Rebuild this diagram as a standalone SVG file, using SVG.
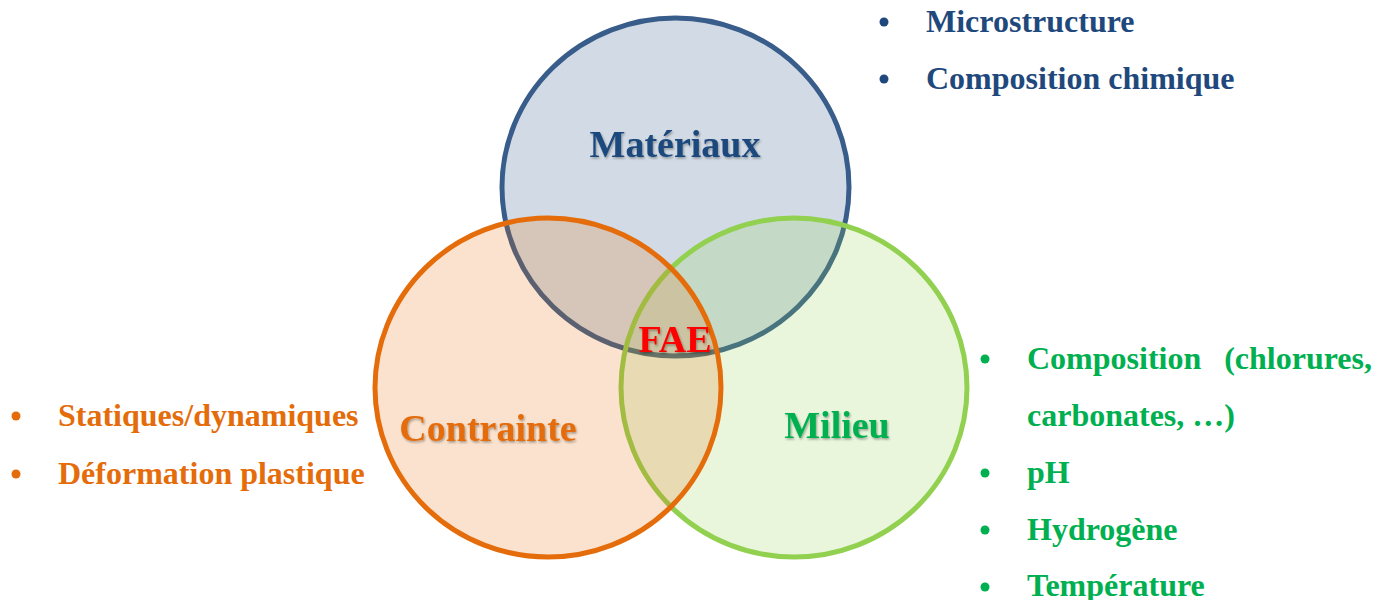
<svg xmlns="http://www.w3.org/2000/svg" width="1389" height="600" viewBox="0 0 1389 600">
<style>
.t{font-family:"Liberation Serif","Times New Roman",serif;font-weight:bold}
.lbl{font-size:38px;text-anchor:middle;filter:url(#sh)}
.li{font-size:32px}
.blue{fill:#1F497D}
.org{fill:#E46C0A}
.grn{fill:#00B050}
</style>
<defs>
<filter id="sh" x="-10%" y="-30%" width="120%" height="160%">
<feDropShadow dx="1" dy="1.5" stdDeviation="1" flood-color="#000" flood-opacity="0.35"/>
</filter>
</defs>
<rect width="1389" height="600" fill="#fff"/>
<g id="materiaux">
<ellipse cx="675.5" cy="187" rx="173.5" ry="169" fill="#1F497D" fill-opacity="0.2" stroke="#385D8A" stroke-width="5"/>
</g>
<g id="milieu">
<ellipse cx="794" cy="387.5" rx="173" ry="169.5" fill="#92D050" fill-opacity="0.2" stroke="#92D050" stroke-width="5"/>
</g>
<g id="contrainte">
<ellipse cx="548" cy="387.5" rx="173" ry="169.5" fill="#E46C0A" fill-opacity="0.2" stroke="#E46C0A" stroke-width="5"/>
</g>
<g id="labels">
<text class="t lbl blue" x="675" y="157">Matériaux</text>
<text class="t lbl org" x="488" y="441">Contrainte</text>
<text class="t lbl grn" x="837" y="438">Milieu</text>
<text class="t lbl" x="675" y="352" fill="#FF0000">FAE</text>
</g>
<g id="list-materiaux">
<circle class="blue" cx="884" cy="22" r="4.5"/>
<circle class="blue" cx="884" cy="79" r="4.5"/>
<text class="t li blue" x="926" y="32">Microstructure</text>
<text class="t li blue" x="926" y="89">Composition chimique</text>
</g>
<g id="list-contrainte">
<circle class="org" cx="16" cy="416" r="4.5"/>
<circle class="org" cx="16" cy="474" r="4.5"/>
<text class="t li org" x="58" y="426">Statiques/dynamiques</text>
<text class="t li org" x="58" y="484">Déformation plastique</text>
</g>
<g id="list-milieu">
<circle class="grn" cx="985" cy="359" r="4.5"/>
<circle class="grn" cx="985" cy="473" r="4.5"/>
<circle class="grn" cx="985" cy="530" r="4.5"/>
<circle class="grn" cx="985" cy="587" r="4.5"/>
<text class="t li grn" x="1027" y="369">Composition</text>
<text class="t li grn" x="1372" y="369" text-anchor="end">(chlorures,</text>
<text class="t li grn" x="1027" y="426">carbonates, …)</text>
<text class="t li grn" x="1027" y="483">pH</text>
<text class="t li grn" x="1027" y="540">Hydrogène</text>
<text class="t li grn" x="1027" y="596">Température</text>
</g>
<g id="connectors"/>
</svg>
